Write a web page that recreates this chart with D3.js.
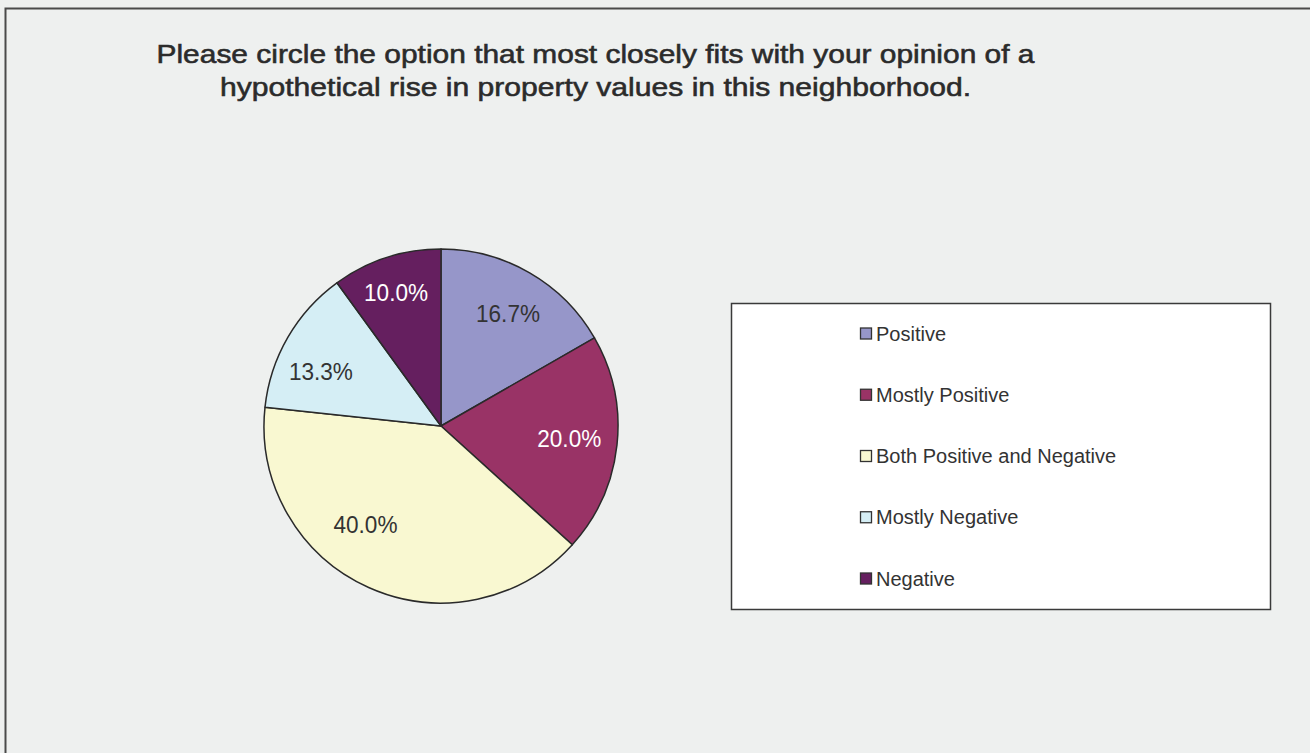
<!DOCTYPE html>
<html>
<head>
<meta charset="utf-8">
<script src="https://cdn.jsdelivr.net/npm/d3@7"></script>
<style>
  html, body { margin: 0; padding: 0; background: #eef0ef; }
  svg { display: block; }
</style>
</head>
<body>
<svg id="chart" width="1310" height="753"></svg>
<script>
// Survey responses (share of respondents, %)
const categories = ["Positive", "Mostly Positive", "Both Positive and Negative", "Mostly Negative", "Negative"];
const shares = [16.7, 20.0, 40.0, 13.3, 10.0];
const sliceColors = ["#9696c9", "#993366", "#f9f8d1", "#d5eef5", "#651f5f"];
const labelColors = ["#333333", "#ffffff", "#333333", "#333333", "#ffffff"];
const titleLines = [
  "Please circle the option that most closely fits with your opinion of a",
  "hypothetical rise in property values in this neighborhood."
];

const svg = d3.select("#chart");
const W = 1310, H = 753;

// outer frame
svg.append("rect")
  .attr("x", 5.5).attr("y", 8.5)
  .attr("width", W).attr("height", H)
  .attr("fill", "#eef0ef")
  .attr("stroke", "#4a4a4a").attr("stroke-width", 2);

// title
const titleWidths = [878, 751];
svg.append("g").selectAll("text")
  .data(titleLines)
  .join("text")
  .attr("x", 595.5)
  .attr("y", (d, i) => 63 + i * 33)
  .attr("text-anchor", "middle")
  .attr("font-family", "'Liberation Sans', Arial, sans-serif")
  .attr("font-size", 25.5)
  .attr("fill", "#2b2b2b")
  .attr("stroke", "#2b2b2b").attr("stroke-width", 0.55)
  .attr("textLength", (d, i) => titleWidths[i])
  .attr("lengthAdjust", "spacingAndGlyphs")
  .text(d => d);

// pie
const cx = 441, cy = 426, R = 177;
const data = categories.map((c, i) => ({ name: c, value: shares[i], color: sliceColors[i], label: labelColors[i] }));
const pie = d3.pie().value(d => d.value).sort(null);
const arc = d3.arc().innerRadius(0).outerRadius(R);
const labelArc = d3.arc().innerRadius(129).outerRadius(129);
// small label offsets from the slice centroid, in px
const labelNudge = [[2.4, -0.8], [0, -1.3], [-22.8, -19.8], [-8.4, 10.1], [-5.1, -10.8]];
const arcs = pie(data);

const gPie = svg.append("g").attr("transform", `translate(${cx},${cy})`);
gPie.selectAll("path")
  .data(arcs)
  .join("path")
  .attr("d", arc)
  .attr("fill", d => d.data.color)
  .attr("stroke", "#2a2a2a")
  .attr("stroke-width", 1.5)
  .attr("stroke-linejoin", "round");

gPie.selectAll("text")
  .data(arcs)
  .join("text")
  .attr("transform", (d, i) => {
    const [x, y] = labelArc.centroid(d);
    return `translate(${x + labelNudge[i][0]},${y + labelNudge[i][1]})`;
  })
  .attr("text-anchor", "middle")
  .attr("dy", "0.36em")
  .attr("font-family", "'Liberation Sans', Arial, sans-serif")
  .attr("font-size", 24)
  .attr("textLength", 64)
  .attr("lengthAdjust", "spacingAndGlyphs")
  .attr("fill", d => d.data.label)
  .text(d => d3.format(".1f")(d.data.value) + "%");

// legend
const lg = svg.append("g");
lg.append("rect")
  .attr("x", 731.5).attr("y", 303.5)
  .attr("width", 539).attr("height", 306)
  .attr("fill", "#ffffff")
  .attr("stroke", "#3a3a3a").attr("stroke-width", 1.5);

const rowY = d3.scalePoint().domain(categories).range([333.5, 578.5]);
const rows = lg.selectAll("g.row")
  .data(data)
  .join("g")
  .attr("class", "row")
  .attr("transform", d => `translate(0,${rowY(d.name)})`);
rows.append("rect")
  .attr("x", 860.5).attr("y", -5.5)
  .attr("width", 11).attr("height", 11)
  .attr("fill", d => d.color)
  .attr("stroke", "#333333").attr("stroke-width", 1.3);
rows.append("text")
  .attr("x", 876)
  .attr("dy", "0.36em")
  .attr("font-family", "'Liberation Sans', Arial, sans-serif")
  .attr("font-size", 20)
  .attr("fill", "#333333")
  .text(d => d.name);
</script>
</body>
</html>
